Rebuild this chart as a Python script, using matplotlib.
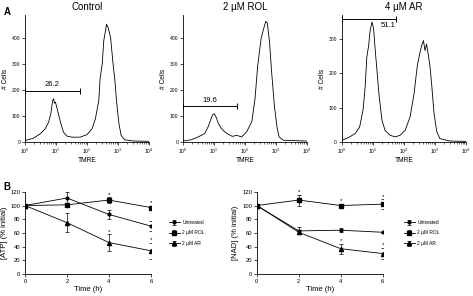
import numpy as np
import matplotlib
matplotlib.use("Agg")
import matplotlib.pyplot as plt
from matplotlib.ticker import LogLocator, NullFormatter, FixedLocator

plt.rcParams["font.family"] = ["Liberation Sans", "DejaVu Sans"]

# --- panel A: TMRE histograms (x in log10 decades, y = # cells) ---
ctrl_logx = [0.0, 0.27, 0.49, 0.65, 0.76, 0.83, 0.89, 0.92, 0.95, 0.98, 1.05, 1.14, 1.24,
             1.35, 1.51, 1.78, 2.0, 2.16, 2.27, 2.38, 2.42, 2.49, 2.54, 2.63, 2.68, 2.76,
             2.83, 2.90, 2.95, 3.03, 3.10, 3.21, 3.51, 4.0]
ctrl_cells = [6, 15, 32, 51, 77, 109, 160, 167, 150, 154, 122, 77, 38,
              23, 19, 19, 29, 51, 90, 160, 244, 301, 391, 455, 442, 404,
              314, 237, 160, 71, 26, 9, 4, 3]

rol_logx = [0.0, 0.27, 0.49, 0.70, 0.81, 0.89, 0.95, 1.01, 1.06, 1.14, 1.24, 1.35, 1.46,
            1.59, 1.73, 1.89, 2.05, 2.22, 2.32, 2.41, 2.52, 2.59, 2.67, 2.72, 2.79,
            2.86, 2.95, 3.03, 3.10, 3.24, 4.0]
rol_cells = [4, 9, 20, 33, 59, 85, 105, 109, 98, 72, 52, 39, 30,
             22, 26, 20, 39, 79, 164, 295, 400, 433, 466, 459, 387,
             269, 138, 59, 20, 7, 4]

ar_logx = [0.0, 0.21, 0.43, 0.57, 0.68, 0.75, 0.80, 0.86, 0.91, 0.97, 1.02, 1.07, 1.13,
           1.20, 1.29, 1.39, 1.55, 1.72, 1.88, 2.04, 2.20, 2.33, 2.43, 2.52, 2.57, 2.63,
           2.68, 2.73, 2.79, 2.84, 2.90, 2.97, 3.06, 3.16, 3.49, 4.0]
ar_cells = [5, 13, 25, 44, 93, 162, 246, 280, 325, 349, 330, 271, 207,
            133, 64, 34, 20, 15, 20, 34, 74, 143, 221, 261, 280, 295,
            266, 285, 251, 221, 162, 84, 30, 10, 3, 2]

hist_titles = ["Control", "2 \u00b5M ROL", "4 \u00b5M AR"]
gate_pct = ["26.2", "19.6", "51.1"]
gate_end = [58, 56, 56]          # TMRE value where the gate ends (starts at 10^0)
gate_level = [199, 140, 359]     # # cells at which the gate is drawn
hist_ylim = [490, 490, 369]
hist_yticks = [[0, 100, 200, 300, 400], [0, 100, 200, 300, 400], [0, 100, 200, 300]]

# --- panel B: ATP and NAD time courses ---
time_h = [0, 2, 4, 6]
series = ["Untreated", "2 \u00b5M ROL", "2 \u00b5M AR"]
atp_mean = [[100, 111, 87, 70], [100, 101, 108, 97], [100, 75, 46, 34]]
atp_err = [[0, 9, 6, 7], [0, 3, 4, 2], [0, 14, 12, 12]]
atp_star = [[], [4, 6], [4, 6]]
nad_mean = [[100, 63, 64, 61], [100, 108, 100, 102], [100, 61, 37, 30]]
nad_err = [[0, 5, 3, 1], [0, 8, 2, 7], [0, 3, 7, 8]]
nad_star = [[], [2, 4, 6], [4, 6]]

fig = plt.figure(figsize=(4.73, 2.96), dpi=100)

hist_data = [(ctrl_logx, ctrl_cells), (rol_logx, rol_cells), (ar_logx, ar_cells)]
lefts = [0.053, 0.387, 0.723]
for i, (lx, cells) in enumerate(hist_data):
    ax = fig.add_axes([lefts[i], 0.520, 0.262, 0.429])
    ax.plot(10 ** np.array(lx), cells, color="black", lw=0.6)
    ax.set_xscale("log")
    ax.set_xlim(1, 1e4)
    ax.set_ylim(0, hist_ylim[i])
    ax.set_yticks(hist_yticks[i])
    ax.xaxis.set_major_locator(FixedLocator([1, 10, 100, 1000, 10000]))
    ax.xaxis.set_minor_locator(LogLocator(base=10, subs=np.arange(2, 10)))
    ax.xaxis.set_minor_formatter(NullFormatter())
    for s in ["top", "right"]:
        ax.spines[s].set_visible(False)
    for s in ["left", "bottom"]:
        ax.spines[s].set_linewidth(0.6)
    ax.tick_params(which="major", length=2, width=0.5, labelsize=3.6, pad=1.5)
    ax.tick_params(which="minor", length=1.2, width=0.4)
    ax.set_xlabel("TMRE", fontsize=4.8, labelpad=0.5)
    ax.set_ylabel("# Cells", fontsize=4.8, labelpad=2)
    ax.set_title(hist_titles[i], fontsize=7, pad=4)
    # gate
    ax.plot([1, gate_end[i]], [gate_level[i]] * 2, color="black", lw=0.7)
    ax.plot([1, gate_end[i]], [gate_level[i]] * 2, ls="none", marker="|",
            ms=5, mew=0.7, color="black")
    if i < 2:
        ax.text(7.5, gate_level[i] + 8, gate_pct[i], fontsize=5.5, ha="center", va="bottom")
    else:
        ax.text(32, gate_level[i] - 10, gate_pct[i], fontsize=5.5, ha="center", va="top")

fig.text(0.008, 0.975, "A", fontsize=7, fontweight="bold", va="top")
fig.text(0.008, 0.385, "B", fontsize=7, fontweight="bold", va="top")

markers = ["o", "s", "^"]
msizes = [2.0, 2.8, 3.0]
b_panels = [(atp_mean, atp_err, atp_star, "[ATP] (% initial)", 0.053, 1.11),
            (nad_mean, nad_err, nad_star, "[NAD] (% initial)", 0.543, 1.135)]
for means, errs, stars, ylab, left, lx in b_panels:
    ax = fig.add_axes([left, 0.074, 0.266, 0.278])
    for k in range(3):
        ax.errorbar(time_h, means[k], yerr=errs[k], color="black", lw=0.6,
                    marker=markers[k], ms=msizes[k], elinewidth=0.5, capsize=1.5,
                    capthick=0.5, label=series[k])
        for t in stars[k]:
            j = time_h.index(t)
            ax.text(t, means[k][j] + errs[k][j] + 1, "*", fontsize=4.5,
                    ha="center", va="bottom")
    ax.set_xlim(0, 6)
    ax.set_ylim(0, 120)
    ax.set_xticks([0, 2, 4, 6])
    ax.set_yticks([0, 20, 40, 60, 80, 100, 120])
    for s in ["top", "right"]:
        ax.spines[s].set_visible(False)
    for s in ["left", "bottom"]:
        ax.spines[s].set_linewidth(0.6)
    ax.tick_params(length=2, width=0.5, labelsize=4.2, pad=1.5)
    ax.set_xlabel("Time (h)", fontsize=5.5, labelpad=1.5)
    ax.set_ylabel(ylab, fontsize=5.5, labelpad=2)
    ax.legend(loc="center left", bbox_to_anchor=(lx, 0.5), frameon=False,
              fontsize=3.5, handlelength=2.2, labelspacing=1.1, handletextpad=0.5)

fig.savefig("out.png", dpi=100)
